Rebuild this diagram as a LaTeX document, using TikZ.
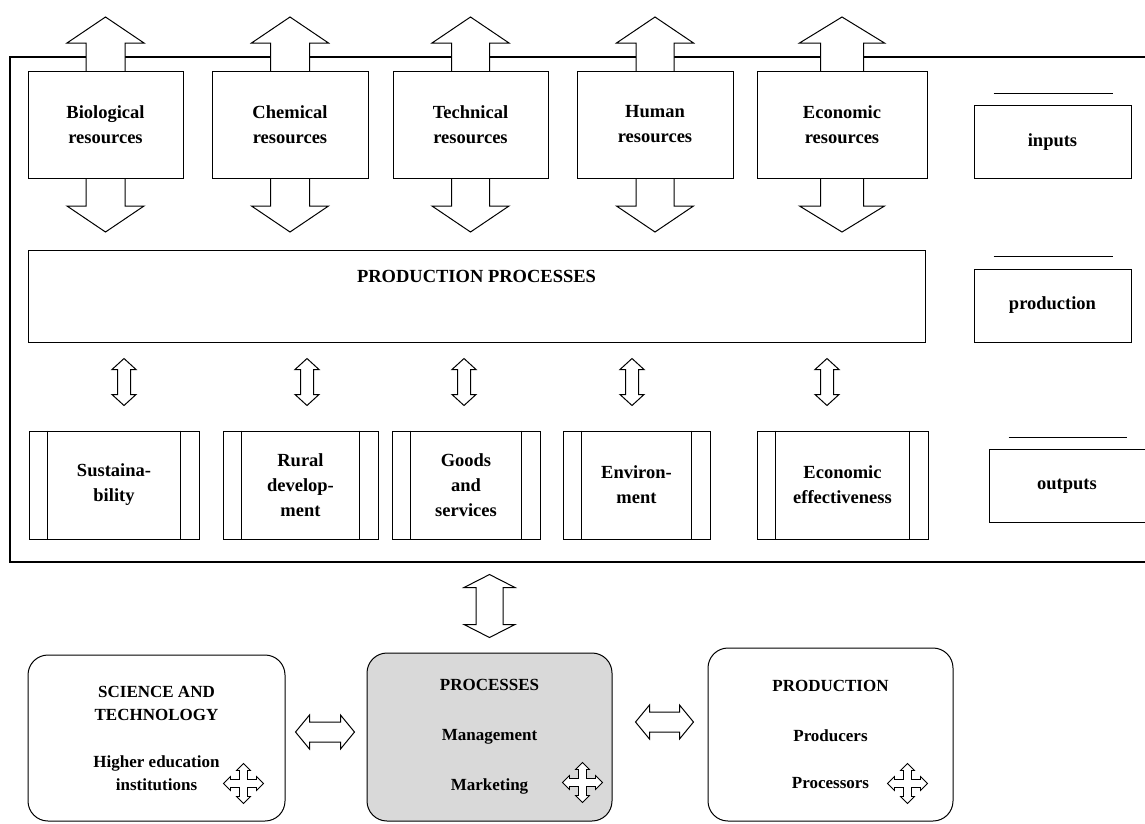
\documentclass[tikz,border=0pt]{standalone}
\usepackage{fontspec}
\setmainfont{Liberation Serif}
\usetikzlibrary{calc}

\begin{document}
\begin{tikzpicture}[x=1pt,y=-1pt,
    blk/.style={draw,fill=white,line width=1pt},
    box/.style={draw,fill=white,line width=1pt,inner sep=0pt,align=center,
      font=\fontsize{18.5}{25}\selectfont\bfseries},
    resbox/.style={box,minimum height=107},
    outbox/.style={box,minimum height=108},
    sidebox/.style={box,minimum width=157,minimum height=73},
    rbox/.style={box,rounded corners=20pt,minimum width=245,
      font=\fontsize{17}{23}\selectfont\bfseries},
    crossicon/.pic={\draw[blk,line width=0.8pt] (0,-20) -- (7,-13) -- (4,-13) -- (4,-4) -- (13,-4) -- (13,-7) -- (20,0)
      -- (13,7) -- (13,4) -- (4,4) -- (4,13) -- (7,13) -- (0,20) -- (-7,13) -- (-4,13) -- (-4,4) -- (-13,4)
      -- (-13,7) -- (-20,0) -- (-13,-7) -- (-13,-4) -- (-4,-4) -- (-4,-13) -- (-7,-13) -- cycle;}]
  % block double arrows: from, to, head half width, stem half width, head length
  \def\dblv#1#2#3#4#5{\filldraw[blk] let \p1=#1, \p2=#2 in
    (\x1,\y1) -- ({\x1+#3pt},{\y1-#5pt}) -- ({\x1+#4pt},{\y1-#5pt}) -- ({\x1+#4pt},{\y2+#5pt}) -- ({\x1+#3pt},{\y2+#5pt})
    -- (\x1,\y2) -- ({\x1-#3pt},{\y2+#5pt}) -- ({\x1-#4pt},{\y2+#5pt}) -- ({\x1-#4pt},{\y1-#5pt}) -- ({\x1-#3pt},{\y1-#5pt}) -- cycle;}
  \def\dblh#1#2#3#4#5{\filldraw[blk] let \p1=#1, \p2=#2 in
    (\x1,\y1) -- ({\x1+#5pt},{\y1+#3pt}) -- ({\x1+#5pt},{\y1+#4pt}) -- ({\x2-#5pt},{\y1+#4pt}) -- ({\x2-#5pt},{\y1+#3pt})
    -- (\x2,\y1) -- ({\x2-#5pt},{\y1-#3pt}) -- ({\x2-#5pt},{\y1-#4pt}) -- ({\x1+#5pt},{\y1-#4pt}) -- ({\x1+#5pt},{\y1-#3pt}) -- cycle;}
  \path[use as bounding box,fill=white] (0,0) rectangle (1145,823);
  % frame
  \draw[line width=1.3pt] (1160,57) -- (10,57) -- (10,562) -- (1160,562);
  % inputs
  \foreach \nm/\cx/\w/\hw/\sw/\t in {bio/105.5/155/38.5/19.5/{Biological\\resources},
      chem/290/156/38.5/19.5/{Chemical\\resources}, tech/470.5/155/38.5/19/{Technical\\resources},
      hum/655/156/38.5/19/{Human\\resources}, eco/842/170/42.5/21.5/{Economic\\resources}}{
    \dblv{(\cx,17)}{(\cx,232)}{\hw}{\sw}{26}
    \node[resbox,minimum width=\w] (\nm) at (\cx,124.5) {\t};
  }
  \node[box,minimum width=897,minimum height=92,
    label={[anchor=north,yshift=-17pt,font=\fontsize{18.5}{25}\selectfont\bfseries]north:PRODUCTION PROCESSES}] (pp) at (476.5,296) {};
  % outputs
  \node[outbox,minimum width=170] (o1) at (114,485) {Sustaina-\\bility};
  \node[outbox,minimum width=155] (o2) at (300.5,485) {Rural\\develop-\\ment};
  \node[outbox,minimum width=148] (o3) at (466,485) {Goods\\and\\services};
  \node[outbox,minimum width=147] (o4) at (636.5,485) {Environ-\\ment};
  \node[outbox,minimum width=171] (o5) at (842.5,485) {Economic\\effectiveness};
  \foreach \nm in {o1,o2,o3,o4,o5}
    \draw[line width=1pt] ([xshift=19pt]\nm.north west) -- ([xshift=19pt]\nm.south west)
      ([xshift=-19pt]\nm.north east) -- ([xshift=-19pt]\nm.south east);
  \foreach \ax/\nm in {124/o1,307/o2,464/o3,632/o4,827/o5}
    \dblv{($(pp.south -| \ax,0)+(0,16)$)}{($(\nm.north)+(0,-25)$)}{12}{6.5}{11};
  % legend
  \node[sidebox] (inp) at (1052.5,142) {inputs};
  \node[sidebox] (prd) at (1052.5,305.5) {production};
  \node[sidebox,minimum width=156] (outp) at (1067,486) {outputs};
  \foreach \nm in {inp,prd,outp}
    \draw[line width=1pt] ($(\nm.north west)+(20,-12)$) -- ($(\nm.north east)+(-19,-12)$);
  % bottom row
  \node[rbox,minimum width=257,minimum height=166] (sci) at (156.5,738)
    {SCIENCE AND\\TECHNOLOGY\\[24pt]Higher education\\institutions};
  \node[rbox,fill=gray!30,minimum height=168] (proc) at (489.5,737)
    {PROCESSES\\[27pt]Management\\[27pt]Marketing};
  \node[rbox,minimum height=173] (prodn) at (830.5,734.5)
    {PRODUCTION\\[27pt]Producers\\[24pt]Processors};
  \pic at ($(sci.south east)+(-42,-38)$) {crossicon};
  \pic at ($(proc.south east)+(-30,-39)$) {crossicon};
  \pic at ($(prodn.south east)+(-46,-38)$) {crossicon};
  \dblv{($(proc.north)+(0,-78)$)}{($(proc.north)+(0,-15)$)}{25.5}{13.5}{13}
  \dblh{($(sci.east)+(10,-6)$)}{($(proc.west)+(-12,0)$)}{17}{10}{14}
  \dblh{($(proc.east)+(23,-15)$)}{($(prodn.west)+(-14,0)$)}{17}{10}{14}
\end{tikzpicture}
\end{document}
